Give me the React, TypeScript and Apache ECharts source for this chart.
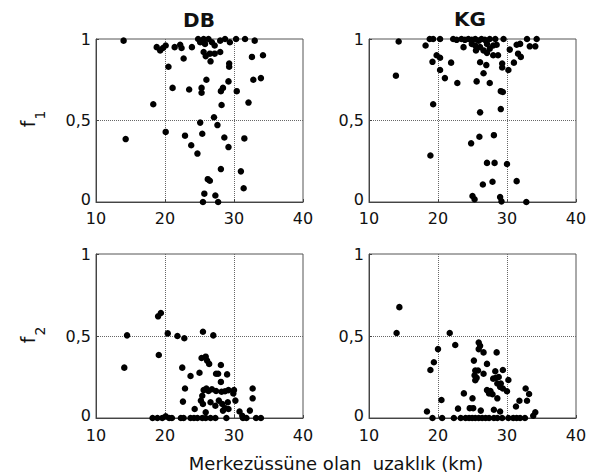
import React, { useEffect, useRef } from "react";
import * as echarts from "echarts";

// x: Merkezüssüne olan uzaklık (km), y: f value
const dbF1: [number, number][] = [
  [14.0, 0.99], [18.8, 0.95], [19.3, 0.93], [19.7, 0.945], [20.1, 0.96],
  [21.4, 0.95], [22.2, 0.965], [22.4, 0.945], [22.7, 0.88], [23.9, 0.95],
  [24.8, 1.0], [25.6, 1.0], [26.3, 1.0], [25.1, 0.98], [25.8, 0.97], [26.8, 0.98], [27.2, 0.96],
  [25.6, 0.92], [25.9, 0.895], [26.5, 0.91], [27.2, 0.91], [28.0, 0.92], [26.6, 0.863],
  [28.0, 0.99], [28.7, 1.0], [29.4, 0.98], [30.3, 1.0], [31.6, 1.0], [33.0, 0.99],
  [29.3, 0.85], [29.3, 0.83], [32.6, 0.89], [34.2, 0.9], [20.5, 0.83],
  [26.0, 0.75], [29.2, 0.74], [32.8, 0.75], [33.9, 0.76],
  [21.1, 0.70], [23.5, 0.69], [25.3, 0.70], [25.3, 0.67], [28.4, 0.70], [28.1, 0.68], [30.4, 0.68],
  [18.3, 0.60], [28.2, 0.595], [32.1, 0.61],
  [27.1, 0.52], [25.1, 0.487], [27.6, 0.472],
  [14.3, 0.386], [20.1, 0.43], [22.9, 0.407], [25.4, 0.419], [28.6, 0.396], [31.5, 0.39],
  [23.8, 0.348], [29.2, 0.337], [24.7, 0.297],
  [28.1, 0.202], [31.0, 0.188], [26.2, 0.14], [26.5, 0.13],
  [31.4, 0.084], [25.7, 0.051], [27.3, 0.04], [25.5, 0.0], [27.7, 0.0],
];

const kgF1: [number, number][] = [
  [14.3, 0.985], [13.9, 0.775],
  [18.2, 0.96], [18.8, 1.0], [19.3, 1.0], [20.3, 1.0],
  [22.2, 1.0], [22.7, 0.995], [23.4, 1.0], [23.9, 0.995], [24.4, 1.0], [24.9, 0.995], [25.4, 1.0],
  [25.9, 0.99], [26.3, 1.0], [26.8, 0.995], [27.5, 1.0], [28.3, 1.0], [29.5, 1.0],
  [23.7, 0.95], [24.9, 0.97], [25.4, 0.96], [25.5, 0.93], [26.1, 0.95], [26.6, 0.93],
  [27.1, 0.97], [27.5, 0.94], [28.0, 0.96], [28.5, 0.965],
  [27.1, 0.915], [28.0, 0.9], [28.7, 0.9],
  [30.4, 0.935], [31.4, 0.965], [31.9, 0.97], [31.6, 0.91], [32.0, 0.89],
  [32.9, 1.0], [34.3, 1.0], [33.3, 0.955], [34.1, 0.955],
  [19.8, 0.9], [20.3, 0.885], [19.2, 0.86], [21.9, 0.855], [20.3, 0.81],
  [26.1, 0.857], [27.0, 0.84], [29.3, 0.85], [29.3, 0.825], [30.2, 0.81], [31.0, 0.855],
  [21.0, 0.76], [22.8, 0.73], [26.6, 0.79], [25.6, 0.74], [27.5, 0.73],
  [29.1, 0.68], [29.4, 0.675],
  [19.3, 0.6], [26.1, 0.55], [29.1, 0.57],
  [26.0, 0.4], [24.8, 0.36], [28.1, 0.41], [18.9, 0.285],
  [27.1, 0.24], [28.2, 0.24], [30.0, 0.233],
  [26.5, 0.107], [27.9, 0.124], [31.4, 0.128],
  [25.0, 0.037], [25.3, 0.017], [29.0, 0.03], [29.2, 0.004], [32.8, 0.0],
];

const dbF2: [number, number][] = [
  [19.0, 0.62], [19.4, 0.64],
  [14.5, 0.504], [20.4, 0.516], [21.8, 0.5], [22.8, 0.486], [25.5, 0.526], [27.0, 0.504],
  [14.1, 0.307], [19.1, 0.384], [22.5, 0.307], [23.7, 0.256], [25.0, 0.276],
  [25.3, 0.366], [25.9, 0.374], [26.1, 0.35], [26.4, 0.33],
  [28.1, 0.323], [27.4, 0.27], [27.7, 0.27], [29.0, 0.266], [28.1, 0.22],
  [22.9, 0.18], [22.6, 0.1],
  [25.6, 0.17], [26.0, 0.18], [26.3, 0.165], [26.8, 0.175], [27.4, 0.165], [28.2, 0.16],
  [28.7, 0.163], [29.2, 0.17], [30.0, 0.17],
  [25.4, 0.136], [25.2, 0.106], [25.5, 0.085],
  [26.6, 0.096], [27.3, 0.075], [27.8, 0.106], [28.3, 0.085], [28.7, 0.06], [29.2, 0.055],
  [28.4, 0.045], [29.1, 0.096], [30.2, 0.106], [29.9, 0.15],
  [24.3, 0.055], [25.9, 0.035], [30.8, 0.04], [31.2, 0.014],
  [32.7, 0.18], [32.7, 0.12], [32.3, 0.045],
  [18.2, 0], [18.9, 0], [19.6, 0], [20.1, 0.01], [20.6, 0], [21.0, 0], [22.3, 0], [22.7, 0],
  [23.7, 0], [24.2, 0], [24.7, 0], [25.4, 0], [25.9, 0], [26.6, 0], [27.3, 0], [28.9, 0],
  [31.3, 0], [31.8, 0], [33.2, 0], [33.9, 0],
];

const kgF2: [number, number][] = [
  [14.4, 0.676], [14.0, 0.518], [21.7, 0.518],
  [22.5, 0.445], [20.0, 0.42], [19.4, 0.34], [18.9, 0.293], [20.5, 0.11], [18.4, 0.04],
  [25.9, 0.46], [26.1, 0.44], [25.9, 0.42], [26.6, 0.4], [25.2, 0.35], [28.5, 0.4], [27.1, 0.33],
  [25.4, 0.29], [25.8, 0.29], [26.6, 0.27], [25.3, 0.26], [25.6, 0.245], [25.4, 0.23],
  [28.3, 0.285], [28.4, 0.245], [28.0, 0.24], [28.8, 0.25],
  [29.4, 0.293], [30.2, 0.232],
  [28.6, 0.21], [29.1, 0.21], [29.0, 0.19], [29.4, 0.18], [30.0, 0.163],
  [27.1, 0.17], [27.6, 0.165], [27.4, 0.15], [27.9, 0.145], [28.6, 0.12],
  [23.75, 0.15], [25.0, 0.12],
  [22.9, 0.057], [24.6, 0.06], [25.1, 0.06], [26.2, 0.045], [28.1, 0.05], [29.0, 0.04],
  [31.3, 0.07], [31.8, 0.105], [32.9, 0.105], [32.7, 0.18], [33.2, 0.146],
  [34.1, 0.035], [33.8, 0.014],
  [19.2, 0], [20.6, 0], [22.3, 0], [23.3, 0], [24.0, 0], [24.5, 0], [24.95, 0], [25.4, 0],
  [25.9, 0], [26.4, 0], [26.9, 0], [27.4, 0], [28.1, 0], [28.6, 0], [29.3, 0], [30.2, 0],
  [30.9, 0], [31.4, 0], [31.9, 0], [32.6, 0],
];

const panelTitles = ["DB", "KG"];
const xTitle = "Merkezüssüne olan  uzaklık (km)";
const xMin = 10, xMax = 40, xStep = 10;
const yMin = 0, yMax = 1, yStep = 0.5;

const FONT = "DejaVu Sans";

export default function App() {
  const ref = useRef<HTMLDivElement>(null);
  useEffect(() => {
    if (!ref.current) return;
    const chart = echarts.init(ref.current, null, { renderer: "svg" });
    const grids = [
      { left: 96, top: 39, width: 207, height: 163 },
      { left: 369, top: 39, width: 207, height: 163 },
      { left: 96, top: 254, width: 207, height: 164 },
      { left: 369, top: 254, width: 207, height: 164 },
    ].map((g) => ({ ...g, show: true, borderColor: "#555", borderWidth: 1, backgroundColor: "#fff" }));
    const datasets = [dbF1, kgF1, dbF2, kgF2];
    const gridLine = { show: true, showMinLine: false, showMaxLine: false, lineStyle: { type: "dotted", color: "#666", width: 1 } };
    const xAxes = grids.map((_, i) => ({
      type: "value", gridIndex: i, min: xMin, max: xMax, interval: xStep,
      axisLine: { show: true, lineStyle: { color: "#444" } },
      axisTick: { show: true, inside: true, length: 3, lineStyle: { color: "#444" } },
      axisLabel: { fontSize: 16, lineHeight: 14, fontFamily: FONT, color: "#111", margin: i < 2 ? 9 : 10 },
      splitLine: gridLine,
    }));
    const yAxes = grids.map((_, i) => ({
      type: "value", gridIndex: i, min: yMin, max: yMax, interval: yStep,
      axisLine: { show: true, lineStyle: { color: "#444" } },
      axisTick: { show: true, inside: true, length: 3, lineStyle: { color: "#444" } },
      axisLabel: {
        fontSize: 16, lineHeight: 13, fontFamily: FONT, color: "#111", margin: 5,
        formatter: (v: number) => (v === yMin ? "{z|0}" : String(v).replace(".", ",")),
        rich: { z: { fontSize: 16, lineHeight: 13, fontFamily: FONT, color: "#111", padding: [0, 0, 5, 0] } },
      },
      splitLine: gridLine,
    }));
    const series = datasets.map((d, i) => ({
      type: "scatter", xAxisIndex: i, yAxisIndex: i, data: d,
      symbolSize: 6.5, clip: false,
      itemStyle: { color: "#000", opacity: 1 },
    }));
    const txt = (x: number, y: number, text: string, size: number, extra: any = {}) => ({
      type: "text", x, y, ...extra,
      style: { text, fontSize: size, fontFamily: FONT, fill: "#111", textAlign: "center", textVerticalAlign: "middle", ...(extra.style || {}) },
    });
    chart.setOption({
      animation: false,
      backgroundColor: "#fff",
      grid: grids,
      xAxis: xAxes,
      yAxis: yAxes,
      series,
      graphic: [
        txt(199, 20, panelTitles[0], 20, { style: { fontWeight: "bold" } }),
        txt(470, 19, panelTitles[1], 20, { style: { fontWeight: "bold" } }),
        txt(336, 463, xTitle, 18),
        txt(28, 124, "f", 19, { rotation: Math.PI / 2 }),
        txt(40, 115, "1", 14, { rotation: Math.PI / 2 }),
        txt(28, 340, "f", 19, { rotation: Math.PI / 2 }),
        txt(40, 331, "2", 14, { rotation: Math.PI / 2 }),
      ],
    });
    return () => chart.dispose();
  }, []);
  return <div ref={ref} style={{ position: "absolute", left: 0, top: 0, width: 598, height: 475 }} />;
}
